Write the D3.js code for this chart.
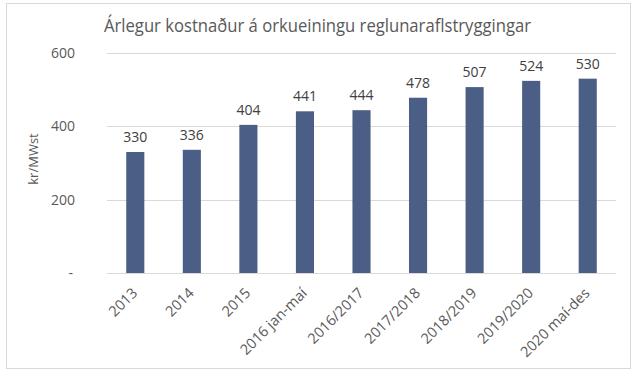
<!DOCTYPE html>
<html><head><meta charset="utf-8">
<script src="https://cdn.jsdelivr.net/npm/d3@7"></script>
<style>body{margin:0;background:#fff}svg{display:block}</style>
</head><body>
<script>
const categories = ["2013","2014","2015","2016 jan-maí","2016/2017","2017/2018","2018/2019","2019/2020","2020 maí-des"];
const values = [330,336,404,441,444,478,507,524,530];
const yTicks = [0,200,400,600];
const title = "Árlegur kostnaður á orkueiningu reglunaraflstryggingar";
const yLabel = "kr/MWst";

const W = 637, H = 383;
const svg = d3.select("body").append("svg").attr("width", W).attr("height", H);
const font = "'Open Sans', sans-serif";

svg.append("rect").attr("x",6.5).attr("y",3.5).attr("width",624).attr("height",365)
  .attr("fill","#fff").attr("stroke","#d9d9d9");

const x = d3.scaleBand().domain(categories).range([107,616]).paddingInner(0.68).paddingOuter(0.34);
const y = d3.scaleLinear().domain([0,600]).range([273,53]);

// gridlines
svg.append("g").selectAll("line").data(yTicks).join("line")
  .attr("x1",107).attr("x2",616).attr("y1",d=>Math.round(y(d))+0.5).attr("y2",d=>Math.round(y(d))+0.5)
  .attr("stroke","#d9d9d9");

// y axis labels
const yAxis = d3.axisLeft(y).tickValues(yTicks).tickSize(0).tickPadding(0)
  .tickFormat(d => d===0 ? "-" : d);
const gy = svg.append("g").attr("transform","translate(75,0)").call(yAxis);
gy.select(".domain").remove();
gy.selectAll("text").attr("font-family",font).attr("font-size",14).attr("fill","#595959");
gy.selectAll(".tick").filter(d=>d===0).select("text").attr("dx",-2);

// bars
svg.append("g").selectAll("rect").data(values).join("rect")
  .attr("x",(d,i)=>x(categories[i])).attr("width",x.bandwidth())
  .attr("y",d=>y(d)).attr("height",d=>y(0)-y(d)).attr("fill","#4a5e86");

// data labels
svg.append("g").selectAll("text").data(values).join("text")
  .attr("x",(d,i)=>x(categories[i])+x.bandwidth()/2).attr("y",d=>y(d)-10)
  .attr("text-anchor","middle").attr("font-family",font).attr("font-size",14)
  .attr("fill","#404040").text(d=>d);

// x axis labels
const xAxis = d3.axisBottom(x).tickSize(0).tickPadding(0);
const gx = svg.append("g").attr("transform",`translate(0,${y(0)})`).call(xAxis);
gx.select(".domain").remove();
gx.selectAll("text").attr("font-family",font).attr("font-size",14.5).attr("fill","#595959")
  .attr("text-anchor","end").attr("dy",0)
  .attr("transform","translate(3,21) rotate(-45)");

// y label
svg.append("text").attr("transform","translate(38,159) rotate(-90)")
  .attr("text-anchor","middle").attr("font-family",font).attr("font-size",13)
  .attr("fill","#595959").text(yLabel);

// title
svg.append("text").attr("x",104).attr("y",32).attr("font-family",font).attr("font-size",19)
  .attr("fill","#595959").attr("textLength",427).attr("lengthAdjust","spacingAndGlyphs").text(title);
</script>
</body></html>
